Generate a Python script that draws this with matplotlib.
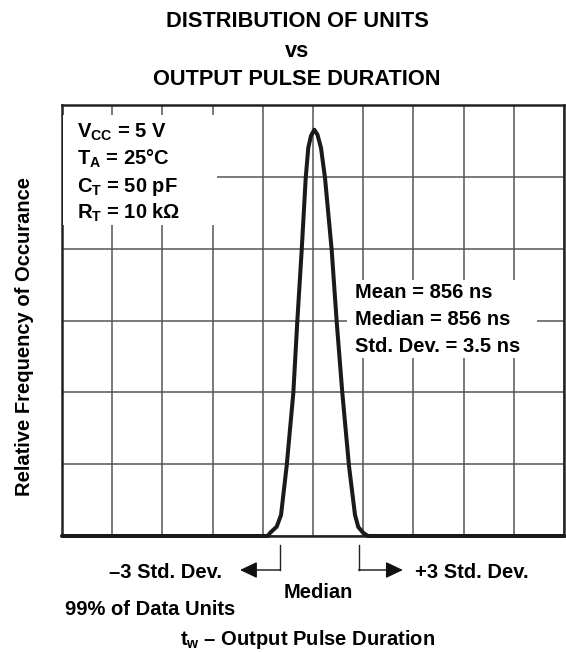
import matplotlib
matplotlib.use('Agg')
import matplotlib.pyplot as plt
import matplotlib.transforms as mtransforms
from matplotlib.patches import Rectangle

plt.rcParams['font.family'] = ['Liberation Sans', 'DejaVu Sans']
plt.rcParams['font.weight'] = 'bold'
plt.rcParams['mathtext.fontset'] = 'custom'
plt.rcParams['mathtext.rm'] = 'Liberation Sans:bold'
plt.rcParams['mathtext.it'] = 'Liberation Sans:bold'
plt.rcParams['mathtext.bf'] = 'Liberation Sans:bold'

# curve (x in grid divisions, y in grid divisions)
curve_x = [0.0, 4.10, 4.143, 4.277, 4.363, 4.476, 4.608, 4.687, 4.775, 4.855,
           4.906, 4.960, 5.026, 5.090, 5.159, 5.239, 5.372, 5.472, 5.584,
           5.717, 5.837, 5.902, 6.002, 6.096, 10.0]
curve_y = [0.0, 0.0, 0.042, 0.130, 0.292, 0.979, 1.992, 2.985, 3.983, 4.986,
           5.404, 5.571, 5.655, 5.585, 5.404, 4.986, 3.983, 2.981, 1.992,
           0.975, 0.292, 0.125, 0.042, 0.0, 0.0]

minus_3sd = 4.34
plus_3sd = 5.91
median_x = 5.0

conditions = [r'V$_{CC}$ = 5 V', r'T$_A$ = 25°C', r'C$_T$ = 50 pF', r'R$_T$ = 10 kΩ']
stats = ['Mean = 856 ns', 'Median = 856 ns', 'Std. Dev. = 3.5 ns']

W, H = 566, 652
fig = plt.figure(figsize=(W / 100, H / 100), dpi=100)
ax = fig.add_axes([62 / W, (H - 536) / H, 502 / W, 431 / H])


def fx(x):
    return x / W


def fy(y):
    return 1 - y / H


ax.set_xlim(0, 10)
ax.set_ylim(0, 6)
ax.set_xticks(range(11))
ax.set_yticks(range(7))
ax.tick_params(length=0, labelbottom=False, labelleft=False)
ax.grid(True, color='#555555', lw=1.1)
ax.set_axisbelow(True)
for s in ax.spines.values():
    s.set_linewidth(1.8)
    s.set_color('#222222')

ax.plot(curve_x, curve_y, color='#1a1a1a', lw=2.9, clip_on=False,
        solid_joinstyle='round', solid_capstyle='round', zorder=5)

# white boxes behind the text blocks
for (x0, y0, x1, y1) in [(63, 115, 217, 225), (347, 280, 537, 358)]:
    fig.patches.append(Rectangle((fx(x0), fy(y1)), (x1 - x0) / W, (y1 - y0) / H,
                                 transform=fig.transFigure, facecolor='white',
                                 edgecolor='none', zorder=2))

fs = 14.5
for txt, yb in zip(conditions, [138, 165, 192, 218.5]):
    fig.text(fx(77), fy(yb), txt, fontsize=fs, va='baseline', ha='left', zorder=6)
for txt, yb in zip(stats, [298, 325, 351.5]):
    fig.text(fx(355), fy(yb), txt, fontsize=fs, va='baseline', ha='left', zorder=6)

# title
for txt, yb in zip(['DISTRIBUTION OF UNITS', 'vs', 'OUTPUT PULSE DURATION'], [27, 57, 85]):
    fig.text(fx(297), fy(yb), txt, fontsize=15.7, va='baseline', ha='center')

fig.text(fx(25), fy(337), 'Relative Frequency of Occurance', fontsize=fs,
         rotation=90, ha='center', va='center')

# ±3 std. dev. markers
tr = mtransforms.blended_transform_factory(ax.transData, fig.transFigure)
ax.plot([minus_3sd, minus_3sd], [fy(545), fy(570)], color='#222222', lw=1.0,
        transform=tr, clip_on=False)
ax.plot([plus_3sd, plus_3sd], [fy(545), fy(570)], color='#222222', lw=1.0,
        transform=tr, clip_on=False)
arrow = dict(arrowstyle='-|>,head_length=1.05,head_width=0.5', color='#111111',
             lw=1.0, mutation_scale=10, shrinkA=0, shrinkB=0)
ax.annotate('', xy=(3.546, fy(570)), xytext=(minus_3sd, fy(570)),
            xycoords=tr, textcoords=tr, arrowprops=arrow, annotation_clip=False)
ax.annotate('', xy=(6.79, fy(570)), xytext=(plus_3sd, fy(570)),
            xycoords=tr, textcoords=tr, arrowprops=arrow, annotation_clip=False)

fig.text(fx(222), fy(578), '–3 Std. Dev.', fontsize=fs, ha='right', va='baseline')
fig.text(fx(415), fy(578), '+3 Std. Dev.', fontsize=fs, ha='left', va='baseline')
ax.text(median_x + 0.1, fy(598), 'Median', fontsize=fs, ha='center', va='baseline',
        transform=tr)
fig.text(fx(65), fy(615), '99% of Data Units', fontsize=fs, ha='left', va='baseline')
fig.text(fx(308), fy(645), r't$_w$ – Output Pulse Duration', fontsize=fs,
         ha='center', va='baseline')

fig.savefig('out.png', dpi=100)
